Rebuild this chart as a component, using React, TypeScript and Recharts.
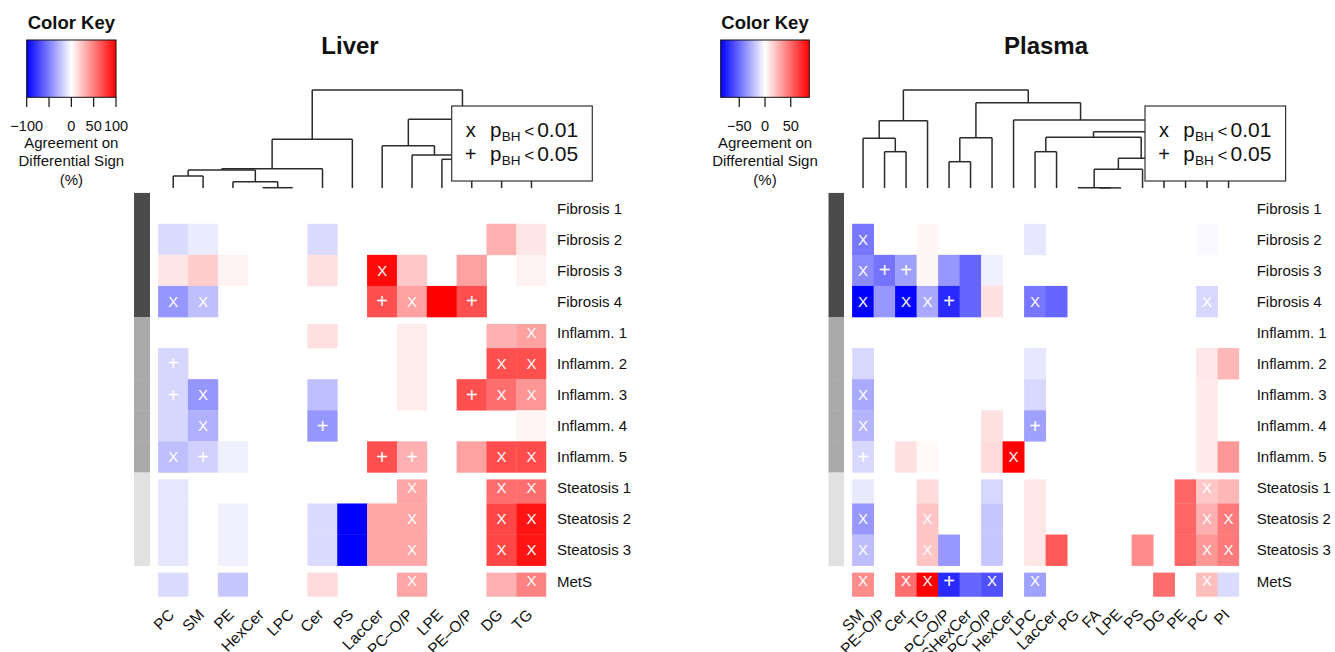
import React from 'react';
import { ScatterChart, Scatter, XAxis, YAxis, ReferenceLine } from 'recharts';

const W = 1335;
const H = 652;
const FONT = '"Liberation Sans", Arial, Helvetica, sans-serif';
const N = null;

// ---------- shared rows ----------
const rowLabels = ['Fibrosis 1', 'Fibrosis 2', 'Fibrosis 3', 'Fibrosis 4', 'Inflamm. 1', 'Inflamm. 2', 'Inflamm. 3', 'Inflamm. 4', 'Inflamm. 5', 'Steatosis 1', 'Steatosis 2', 'Steatosis 3', 'MetS'];
const rowGroups = [0, 0, 0, 0, 1, 1, 1, 1, 1, 2, 2, 2, -1];
const groupColors = ['#4b4b4b', '#aaaaaa', '#e1e1e1'];

// ---------- Liver ----------
const liverColumns = ['PC', 'SM', 'PE', 'HexCer', 'LPC', 'Cer', 'PS', 'LacCer', 'PC\u2013O/P', 'LPE', 'PE\u2013O/P', 'DG', 'TG'];
const liverValues = [
  [N, N, N, N, N, N, N, N, N, N, N, N, N],
  [-14, -8, N, N, N, -14, N, N, N, N, N, 31, 10],
  [10, 20, 5, N, N, 12, N, 97, 22, N, 37, N, 5],
  [-41, -25, N, N, N, N, N, 69, 37, 100, 69, N, N],
  [N, N, N, N, N, 12, N, N, 7, N, N, 31, 37],
  [-16, N, N, N, N, N, N, N, 7, N, N, 69, 69],
  [-16, -41, N, N, N, -25, N, N, 7, N, 69, 57, 41],
  [-16, -31, N, N, N, -41, N, N, N, N, N, N, 4],
  [-25, -18, -6, N, N, N, N, 69, 31, N, 37, 70, 70],
  [-10, N, N, N, N, N, N, N, 35, N, N, 57, 57],
  [-10, N, -6, N, N, -14, -100, 35, 35, N, N, 72, 92],
  [-10, N, -6, N, N, -14, -100, 35, 35, N, N, 72, 92],
  [-14, N, -22, N, N, 14, N, N, 35, N, N, 31, 49],
];
const liverMarks = [
  '.............',
  '.............',
  '.......X.....',
  'XX.....+X.+..',
  '............X',
  '+..........XX',
  '+X........+XX',
  '.X...+.......',
  'X+.....++..XX',
  '........X..XX',
  '........X..XX',
  '........X..XX',
  '........X...X',
];
// [left, right, height]; numbers = leaf index, 'mK' = K-th merge
const liverMerges = [
  [3, 4, 0.3],
  [2, 'm0', 6.3],
  [0, 1, 12],
  ['m2', 'm1', 18],
  ['m3', 5, 19.3],
  ['m4', 6, 48.7],
  [9, 10, 28.7],
  [8, 'm6', 33],
  [7, 'm7', 42.3],
  [11, 12, 20],
  ['m8', 'm9', 68.7],
  ['m5', 'm10', 98],
];
const liverKeyTicks = [-100, -50, 0, 50, 100];
const liverKeyLabels = ['\u2212100', '', '0', '50', '100'];

// ---------- Plasma ----------
const plasmaColumns = ['SM', 'PE\u2013O/P', 'Cer', 'TG', 'LPC\u2013O/P', 'SHexCer', 'PC\u2013O/P', 'HexCer', 'LPC', 'LacCer', 'PG', 'FA', 'LPE', 'PS', 'DG', 'PE', 'PC', 'PI'];
const plasmaValues = [
  [N, N, N, N, N, N, N, N, N, N, N, N, N, N, N, N, N, N],
  [-46, N, N, 3, N, N, N, N, -8, N, N, N, N, N, N, N, -2, N],
  [-39, -47, -32, 3, -35, -52, -5, N, N, N, N, N, N, N, N, N, N, N],
  [-86, -35, -84, -29, -72, -52, 10, N, -46, -52, N, N, N, N, N, N, -13, N],
  [N, N, N, N, N, N, N, N, N, N, N, N, N, N, N, N, N, N],
  [-13, N, N, N, N, N, N, N, -8, N, N, N, N, N, N, N, 8, 24],
  [-29, N, N, N, N, N, N, N, -13, N, N, N, N, N, N, N, 7, N],
  [-25, N, N, N, N, N, 10, N, -32, N, N, N, N, N, N, N, 7, N],
  [-13, N, 10, 2, N, N, 12, 86, N, N, N, N, N, N, N, N, 7, 35],
  [-7, N, N, 12, N, N, -13, N, 8, N, N, N, N, N, N, 52, 19, 24],
  [-35, N, N, 20, N, N, -19, N, 8, N, N, N, N, N, N, 52, 27, 45],
  [-22, N, N, 20, -35, N, -19, N, 8, 56, N, N, N, 39, N, 52, 35, 45],
  [39, N, 49, 86, -72, -52, -59, N, -32, N, N, N, N, N, 49, N, 22, -12],
];
const plasmaMarks = [
  '..................',
  'X.................',
  'X++...............',
  'X.XX+...X.......X.',
  '..................',
  '..................',
  'X.................',
  'X.......+.........',
  '+......X..........',
  '................X.',
  'X..X............XX',
  'X..X............XX',
  'X.XX+.X.X.......X.',
];
const plasmaMerges = [
  [1, 2, 36.3],
  [0, 'm0', 49.7],
  ['m1', 3, 67.3],
  [4, 5, 26.3],
  ['m3', 6, 50.3],
  [11, 12, 0.1],
  [10, 'm5', 0.3],
  ['m6', 13, 18.7],
  ['m7', 14, 29.7],
  [8, 9, 36.3],
  ['m9', 'm8', 50.7],
  [16, 17, 20],
  [15, 'm11', 35],
  ['m10', 'm12', 56.3],
  [7, 'm13', 68],
  ['m4', 'm14', 85.3],
  ['m2', 'm15', 98],
];
const plasmaKeyTicks = [-50, 0, 50];
const plasmaKeyLabels = ['\u221250', '0', '50'];

const sigSymbols = ['x', '+'];
const sigThresholds = ['0.01', '0.05'];
const keyTitleLines = ['Agreement on', 'Differential Sign', '(%)'];

// ---------- layout ----------
const ROW_TOP = 192.7;
const ROW_BOTTOM = 596.7;
const DEND_TOP = 90;
const DEND_BASE = 188;
const DEND_MAX = 98;
const SEP = 7;
const YAXIS_W = 100;
const XAXIS_H = 50;

const heatColor = (v: number, vmax: number) => {
  const t = Math.min(Math.abs(v) / vmax, 1);
  const c = Math.round(255 * (1 - t));
  return v >= 0 ? `rgb(255,${c},${c})` : `rgb(${c},${c},255)`;
};

function dendroSegments(merges: any[]) {
  const pos: Record<string, number> = {};
  const hts: Record<string, number> = {};
  const get = (k: any) => (typeof k === 'number' ? [k, 0] : [pos[k], hts[k]]);
  const segs: any[] = [];
  merges.forEach(([a, b, h], i) => {
    const [xa, ha] = get(a);
    const [xb, hb] = get(b);
    segs.push([{ x: xa, y: ha }, { x: xa, y: h }]);
    segs.push([{ x: xa, y: h }, { x: xb, y: h }]);
    segs.push([{ x: xb, y: hb }, { x: xb, y: h }]);
    pos['m' + i] = (xa + xb) / 2;
    hts['m' + i] = h;
  });
  return segs;
}

type PanelProps = {
  columns: string[];
  values: (number | null)[][];
  marks: string[];
  merges: any[];
  vmax: number;
  sideLeft: number;
  sideW: number;
  cellLeft: number;
  cellRight: number;
  labelGap: number;
};

function Panel(p: PanelProps) {
  const n = p.columns.length;
  const nRows = rowLabels.length;
  const colW = (p.cellRight - p.cellLeft) / n;
  const rowH = (ROW_BOTTOM - ROW_TOP) / nRows;
  const lo = -0.5 - (p.cellLeft - p.sideLeft) / colW;
  const sideX = lo + p.sideW / 2 / colW;
  const sepRows = rowGroups.map((g, i) => (i > 0 && g !== rowGroups[i - 1] ? i : -1)).filter((i) => i >= 0);

  const cells: any[] = [];
  p.values.forEach((row, r) =>
    row.forEach((v, c) => {
      if (v !== null) {
        const m = p.marks[r][c];
        cells.push({ x: c, y: r, v, mark: m === '.' ? '' : m, sep: sepRows.includes(r) });
      }
    })
  );
  const side = rowGroups.map((g, r) => ({ x: sideX, y: r, g })).filter((d) => d.g >= 0);
  const leaves = p.columns.map((_, i) => ({ x: i, y: 0 }));
  const segs = dendroSegments(p.merges);

  const CellShape = (props: any) => {
    const { cx, cy, payload } = props;
    const top = cy - rowH / 2 + (payload.sep ? SEP : 0);
    const bottom = cy + rowH / 2;
    const isX = payload.mark === 'X';
    return (
      <g>
        <rect x={cx - colW / 2 - 0.2} y={top} width={colW + 0.4} height={bottom - top + 0.3} fill={heatColor(payload.v, p.vmax)} />
        {payload.mark ? (
          <text x={cx} y={isX ? cy + 5.3 : cy + 6.8} textAnchor="middle" fill="#ffffff" fontSize={isX ? 15 : 20} fontFamily={FONT}>
            {isX ? 'X' : '+'}
          </text>
        ) : null}
      </g>
    );
  };
  const SideShape = (props: any) => {
    const { cx, cy, payload } = props;
    return <rect x={cx - p.sideW / 2} y={cy - rowH / 2} width={p.sideW} height={rowH + 0.4} fill={groupColors[payload.g]} />;
  };
  const RowTick = (props: any) => {
    const { x, y, payload } = props;
    return (
      <text x={x + p.labelGap} y={y + 5.4} fontSize={15} fontFamily={FONT} fill="#111" textAnchor="start">
        {rowLabels[payload.value]}
      </text>
    );
  };
  const ColTick = (props: any) => {
    const { x, y, payload } = props;
    return (
      <g transform={`translate(${x + 2},${y + 19})`}>
        <text transform="rotate(-45)" textAnchor="end" fontSize={15.5} fontFamily={FONT} fill="#111">
          {p.columns[payload.value]}
        </text>
      </g>
    );
  };

  return (
    <>
      <div style={{ position: 'absolute', left: 0, top: 0 }}>
        <ScatterChart
          width={W}
          height={H}
          margin={{ left: p.cellLeft, right: W - p.cellRight, top: DEND_TOP, bottom: H - DEND_BASE }}
        >
          <XAxis type="number" dataKey="x" domain={[-0.5, n - 0.5]} hide height={0} allowDataOverflow />
          <YAxis type="number" dataKey="y" domain={[0, DEND_MAX]} hide width={0} allowDataOverflow />
          <Scatter data={leaves} isAnimationActive={false} shape={() => <g />} />
          {segs.map((s, i) => (
            <ReferenceLine key={i} segment={s} stroke="#2a2a2a" strokeWidth={1.5} ifOverflow="visible" />
          ))}
        </ScatterChart>
      </div>
      <div style={{ position: 'absolute', left: 0, top: 0 }}>
        <ScatterChart
          width={W}
          height={H}
          margin={{ left: p.sideLeft, right: W - p.cellRight - YAXIS_W, top: ROW_TOP, bottom: H - ROW_BOTTOM - XAXIS_H }}
        >
          <XAxis
            type="number"
            dataKey="x"
            domain={[lo, n - 0.5]}
            allowDataOverflow
            ticks={p.columns.map((_, i) => i)}
            interval={0}
            tick={ColTick}
            tickLine={false}
            axisLine={false}
            tickSize={0}
            tickMargin={0}
            height={XAXIS_H}
          />
          <YAxis
            type="number"
            dataKey="y"
            orientation="right"
            reversed
            domain={[-0.5, nRows - 0.5]}
            allowDataOverflow
            ticks={rowLabels.map((_, i) => i)}
            interval={0}
            tick={RowTick}
            tickLine={false}
            axisLine={false}
            tickSize={0}
            tickMargin={0}
            width={YAXIS_W}
          />
          <Scatter data={side} isAnimationActive={false} shape={SideShape} />
          <Scatter data={cells} isAnimationActive={false} shape={CellShape} />
        </ScatterChart>
      </div>
    </>
  );
}

function ColorKey(props: { x0: number; x1: number; vmin: number; vmax: number; ticks: number[]; labels: string[]; gid: string }) {
  const { x0, x1, vmin, vmax, ticks, labels, gid } = props;
  const sx = (v: number) => x0 + ((v - vmin) / (vmax - vmin)) * (x1 - x0);
  const cx = (x0 + x1) / 2;
  return (
    <g fontFamily={FONT} fill="#111">
      <defs>
        <linearGradient id={gid} x1="0" x2="1" y1="0" y2="0">
          <stop offset="0" stopColor="#0000ff" />
          <stop offset="0.5" stopColor="#ffffff" />
          <stop offset="1" stopColor="#ff0000" />
        </linearGradient>
      </defs>
      <text x={cx} y={28.5} fontSize={18.5} fontWeight="bold" textAnchor="middle">Color Key</text>
      <rect x={x0} y={40} width={x1 - x0} height={57.3} fill={`url(#${gid})`} stroke="#111" strokeWidth={1} />
      {ticks.map((t, i) => (
        <g key={i}>
          <line x1={sx(t)} x2={sx(t)} y1={97.3} y2={107} stroke="#111" strokeWidth={1.2} />
          <text x={sx(t)} y={130.5} fontSize={14.5} textAnchor="middle">{labels[i]}</text>
        </g>
      ))}
      {keyTitleLines.map((l, i) => (
        <text key={i} x={cx} y={147.5 + i * 18.6} fontSize={15} textAnchor="middle">{l}</text>
      ))}
    </g>
  );
}

function SigLegend({ x, y }: { x: number; y: number }) {
  return (
    <g fontFamily={FONT} fill="#111">
      <rect x={x} y={y} width={140.6} height={75} fill="#ffffff" stroke="#333" strokeWidth={1.2} />
      {sigSymbols.map((s, i) => {
        const by = y + 31 + i * 24;
        return (
          <g key={i}>
            <text x={x + 19} y={by} fontSize={20} textAnchor="middle">{s}</text>
            <text x={x + 38.3} y={by} fontSize={20.5}>p</text>
            <text x={x + 50} y={by + 4} fontSize={13.5}>BH</text>
            <text x={x + 72.5} y={by} fontSize={17}>&lt;</text>
            <text x={x + 85.5} y={by} fontSize={21}>{sigThresholds[i]}</text>
          </g>
        );
      })}
    </g>
  );
}

export default function App() {
  return (
    <div style={{ position: 'absolute', left: 0, top: 0, width: W, height: H, background: '#ffffff', overflow: 'hidden' }}>
      <Panel
        columns={liverColumns}
        values={liverValues}
        marks={liverMarks}
        merges={liverMerges}
        vmax={100}
        sideLeft={134}
        sideW={16}
        cellLeft={158.3}
        cellRight={546.4}
        labelGap={10.6}
      />
      <Panel
        columns={plasmaColumns}
        values={plasmaValues}
        marks={plasmaMarks}
        merges={plasmaMerges}
        vmax={86}
        sideLeft={828.3}
        sideW={15.7}
        cellLeft={852.3}
        cellRight={1239.3}
        labelGap={17.4}
      />
      <svg width={W} height={H} style={{ position: 'absolute', left: 0, top: 0 }}>
        <text x={350} y={54} fontSize={24} fontWeight="bold" textAnchor="middle" fontFamily={FONT} fill="#111">Liver</text>
        <text x={1046} y={54} fontSize={24} fontWeight="bold" textAnchor="middle" fontFamily={FONT} fill="#111">Plasma</text>
        <ColorKey x0={26.7} x1={116} vmin={-100} vmax={100} ticks={liverKeyTicks} labels={liverKeyLabels} gid="gLiver" />
        <ColorKey x0={720.7} x1={809.3} vmin={-86} vmax={86} ticks={plasmaKeyTicks} labels={plasmaKeyLabels} gid="gPlasma" />
        <SigLegend x={451.7} y={106} />
        <SigLegend x={1145} y={106} />
      </svg>
    </div>
  );
}
